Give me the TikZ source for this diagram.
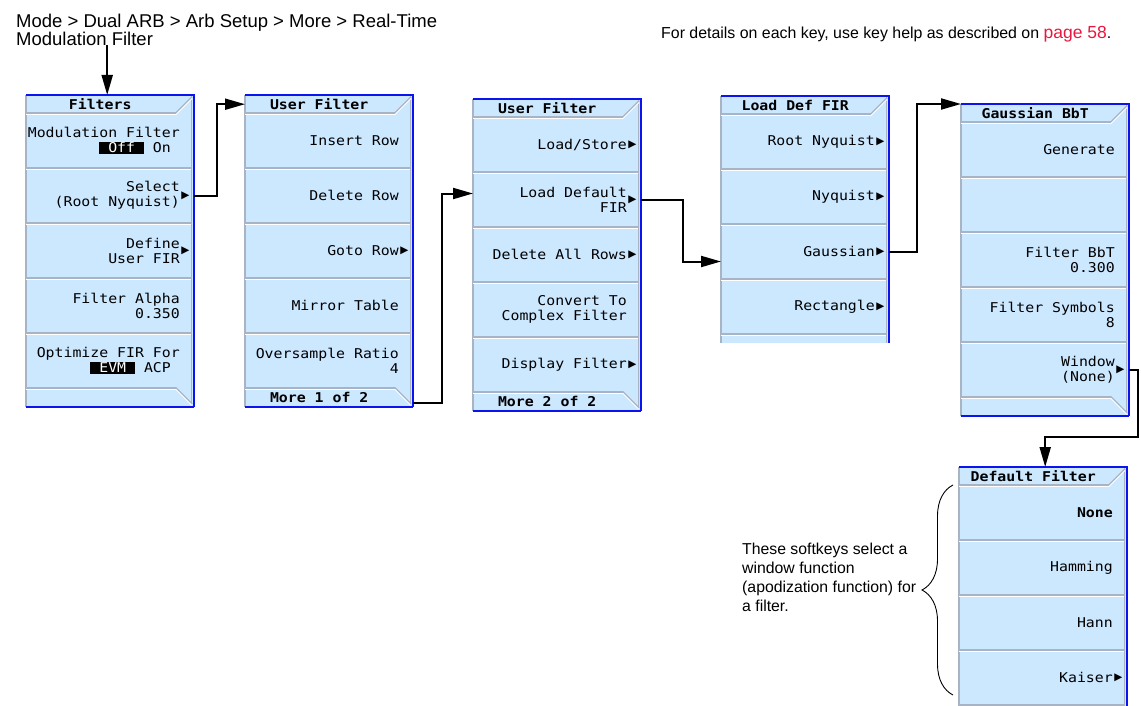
\documentclass[tikz,border=0pt]{standalone}
\usepackage{fontspec}
\setmainfont{Liberation Sans}
\newfontfamily\keyfont[FakeStretch=1.1]{DejaVu Sans Mono}
\newfontfamily\symfont{DejaVu Sans}
\usepackage{xcolor}
\definecolor{keyblue}{HTML}{CCE8FF}
\definecolor{panelblue}{HTML}{0A14F0}
\definecolor{sepgray}{HTML}{A8B4C4}
\definecolor{pagered}{HTML}{E8173F}
\usetikzlibrary{arrows.meta,calc,decorations.pathreplacing}
\newcommand{\hilite}[1]{{\setlength{\fboxsep}{0pt}\colorbox{black}{\rule[-1.5pt]{0pt}{12pt}\textcolor{white}{#1}}}}

\begin{document}
\begin{tikzpicture}[x=1pt, y=-1pt,
    panel/.style={fill=keyblue, minimum width=168, inner sep=0, anchor=north west},
    edge/.style={draw=panelblue, line width=2.4},
    rim/.style={draw=sepgray, line width=1.4},
    sep/.style={draw=sepgray, line width=1.6, postaction={draw=white, line width=0.9, transform canvas={yshift=-1.5pt}}},
    ttl/.style={font=\keyfont\bfseries\fontsize{13.5}{15}\selectfont, minimum width=148, minimum height=18, inner sep=0, anchor=north west},
    key/.style={font=\keyfont\fontsize{13.5}{15}\selectfont, align=right, inner sep=0, anchor=east},
    sub/.style={label={[font=\symfont\fontsize{10.5}{10.5}\selectfont, inner sep=0, label distance=1.2pt]east:▶}},
    note/.style={anchor=west, align=left, inner sep=0, font=\fontsize{15.8}{19}\selectfont},
    link/.style={line width=2, -{Triangle[length=20pt, width=11pt]}}
  ]
  \useasboundingbox (0,0) rectangle (1141,706);

  \node[anchor=north west, align=left, inner sep=0, font=\fontsize{18.5}{18}\selectfont] (crumb) at (16,13.5) {Mode > Dual ARB > Arb Setup > More > Real-Time\\Modulation Filter};
  \node[anchor=base west, inner sep=0, font=\fontsize{15.9}{18}\selectfont] (keyhelp) at (661,39) {For details on each key, use key help as described on {\color{pagered}\fontsize{17.5}{18}\selectfont page 58}.};

  % softkey panels
  \foreach \p/\l/\t/\h in {pfilt/26/95/312, puser/245/95/312, pmore/473/99/312, pload/721/96/247, pgaus/961/104/312, pwin/959/467/239}{
    \node[panel, minimum height=\h] (\p) at (\l,\t) {};
    \draw[rim] (\l,\t) -- ++(0,\h);
    \draw[draw=sepgray, line width=1] (\l+165.5,\t) -- ++(0,\h);
    \draw[sep] (\l,\t+18) -- ++(150,0) -- ++(16,-16);
    \foreach \k in {1,...,4}
      \draw[sep] (\l,\t+18+55*\k) -- ++(165,0);
    \draw[edge] (\l,\t) -- ++(168,0) -- ++(0,\h);
  }
  \foreach \l/\t in {26/95, 245/95, 473/99, 961/104}{
    \draw[sep] (\l,\t+293) -- ++(150,0) -- ++(16,16);
    \draw[edge] (\l+168,\t+312) -- (\l,\t+312);
  }

  % Filters
  \node[ttl] (fttl) at (26,95) {Filters};
  \node[key] (fmod) at (180,140.5) {Modulation Filter\\\hilite{\ Off\ }\ On\phantom{x}};
  \node[key, sub] (fsel) at (180,195.5) {Select\\(Root Nyquist)};
  \node[key, sub] (fdef) at (180,250.5) {Define\\User FIR};
  \node[key] (falp) at (180,305.5) {Filter Alpha\\0.350};
  \node[key] (fopt) at (180,360.5) {Optimize FIR For\\\hilite{\ EVM\ }\ ACP\phantom{x}};

  % User Filter, page 1
  \node[ttl] (uttl) at (245,95) {User Filter};
  \node[key] (uins) at (399,140.5) {Insert Row};
  \node[key] (udel) at (399,195.5) {Delete Row};
  \node[key, sub] (ugoto) at (399,250.5) {Goto Row};
  \node[key] (umir) at (399,305.5) {Mirror Table};
  \node[key] (uovr) at (399,360.5) {Oversample Ratio\\4};
  \node[ttl] (umore) at (245,388) {More 1 of 2};

  % User Filter, page 2
  \node[ttl] (mttl) at (473,99) {User Filter};
  \node[key, sub] (mlds) at (627,144.5) {Load/Store};
  \node[key, sub] (mldf) at (627,199.5) {Load Default\\FIR};
  \node[key, sub] (mdel) at (627,254.5) {Delete All Rows};
  \node[key] (mcnv) at (627,309.5) {Convert To\\Complex Filter};
  \node[key, sub] (mdsp) at (627,364.5) {Display Filter};
  \node[ttl] (mmore) at (473,392) {More 2 of 2};

  % Load Def FIR
  \node[ttl] (lttl) at (721,96) {Load Def FIR};
  \node[key, sub] (lroot) at (875,141.5) {Root Nyquist};
  \node[key, sub] (lnyq) at (875,196.5) {Nyquist};
  \node[key, sub] (lgau) at (875,251.5) {Gaussian};
  \node[key, sub] (lrect) at (875,306.5) {Rectangle};

  % Gaussian BbT
  \node[ttl] (gttl) at (961,104) {Gaussian BbT};
  \node[key] (ggen) at (1115,149.5) {Generate};
  \node[key] (gbbt) at (1115,259.5) {Filter BbT\\0.300};
  \node[key] (gsym) at (1115,314.5) {Filter Symbols\\8};
  \node[key, sub] (gwin) at (1115,369.5) {Window\\(None)};

  % Default Filter
  \node[ttl] (dttl) at (959,467) {Default Filter};
  \node[key] (dnone) at (1113,512.5) {\textbf{None}};
  \node[key] (dham) at (1113,567.5) {Hamming};
  \node[key] (dhan) at (1113,622.5) {Hann};
  \node[key, sub] (dkai) at (1113,677.5) {Kaiser};

  \draw[line width=0.9, decorate, decoration={brace, amplitude=31pt}] (953,695) -- (953,485);
  \node[note] (hint) at (742,577) {These softkeys select a\\window function\\(apodization function) for\\a filter.};

  % menu links
  \coordinate (turn) at (1138,437);
  \draw[link] ([xshift=7pt]fttl.north |- crumb.south) -- ([xshift=7pt]fttl.north);
  \draw[link] (fsel -| pfilt.east) -- ++(23,0) |- (uttl.west);
  \draw[link] ([yshift=4pt]puser.south east) -- ++(29,0) |- ($(mldf -| pmore.west)+(0,-6)$);
  \draw[link] (mldf -| pmore.east) -- ++(42,0) |- ($(lgau -| pload.west)+(0,10)$);
  \draw[link] (lgau -| pload.east) -- ++(28,0) |- (pgaus.north west);
  \draw[link] (gwin -| pgaus.east) -| (turn) -| ($(dttl.north)+(12,0)$);
\end{tikzpicture}
\end{document}
